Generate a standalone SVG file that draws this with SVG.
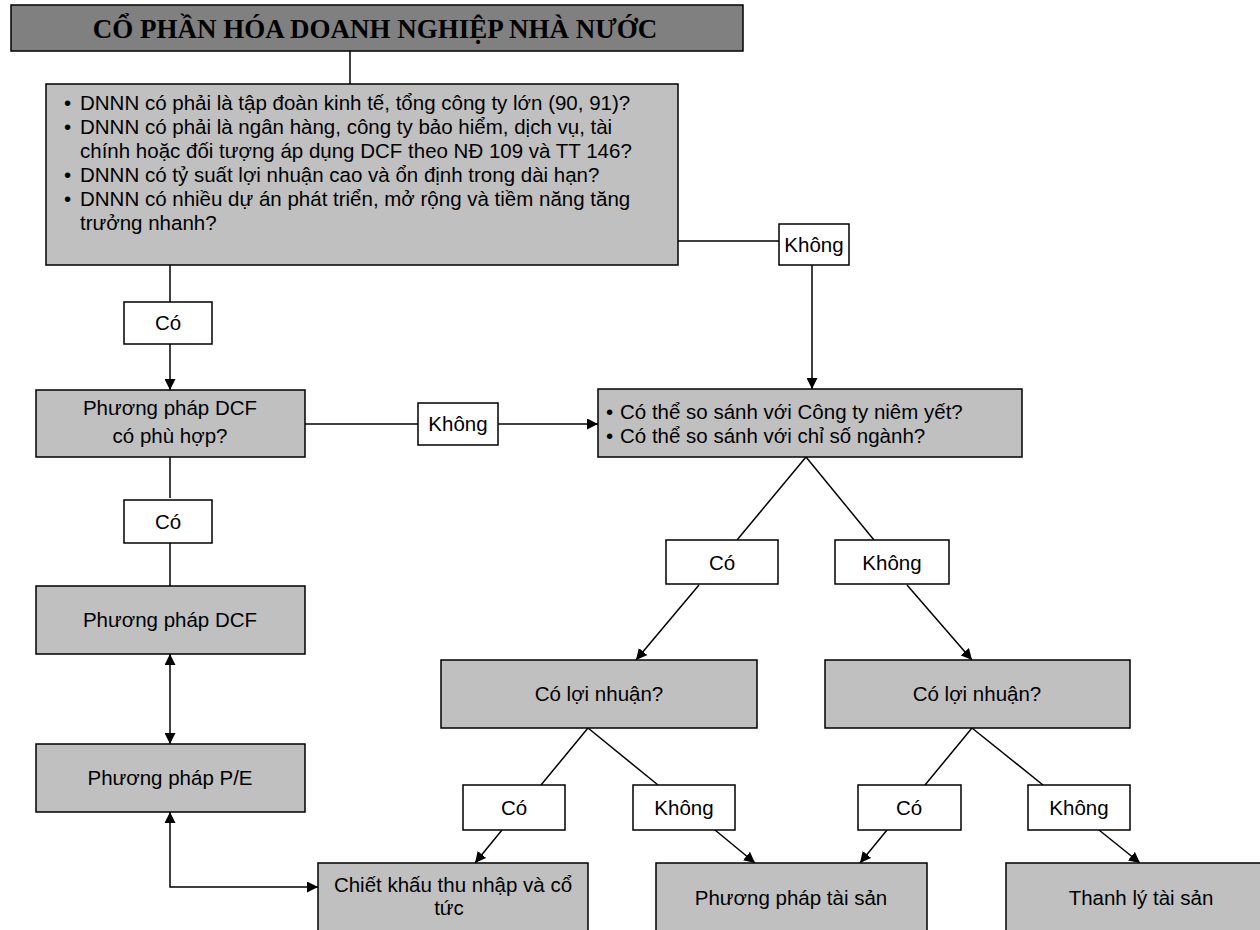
<svg xmlns="http://www.w3.org/2000/svg" width="1260" height="930" viewBox="0 0 1260 930">
<defs>
<style>
.title{fill:#808080;stroke:#000;stroke-width:1.5}
.box{fill:#c0c0c0;stroke:#000;stroke-width:1.5}
.lbl{fill:#fff;stroke:#000;stroke-width:1.5}
.t{font-family:"Liberation Sans",Arial,sans-serif;font-size:20.5px;fill:#000}
.c{text-anchor:middle}
.tt{font-family:"Liberation Serif","Times New Roman",serif;font-size:27px;font-weight:bold;fill:#000;text-anchor:middle}
.ln{stroke:#000;stroke-width:1.5;fill:none}
</style>
<marker id="arr" viewBox="0 0 10 10" refX="10" refY="5" markerWidth="11" markerHeight="11" orient="auto-start-reverse" markerUnits="userSpaceOnUse"><path d="M0,0 L10,5 L0,10 z" fill="#000"/></marker>
</defs>
<rect width="1260" height="930" fill="#fff"/>

<g id="connectors">
<line class="ln" x1="350" y1="51" x2="350" y2="84"/>
<line class="ln" x1="678" y1="241" x2="779" y2="241"/>
<line class="ln" x1="812" y1="265" x2="812" y2="389" marker-end="url(#arr)"/>
<line class="ln" x1="170" y1="265" x2="170" y2="302"/>
<line class="ln" x1="170" y1="344" x2="170" y2="390" marker-end="url(#arr)"/>
<line class="ln" x1="305" y1="424" x2="418" y2="424"/>
<line class="ln" x1="498" y1="424" x2="598" y2="424" marker-end="url(#arr)"/>
<line class="ln" x1="170" y1="457" x2="170" y2="498"/>
<line class="ln" x1="170" y1="543" x2="170" y2="586"/>
<line class="ln" x1="170" y1="654" x2="170" y2="744" marker-start="url(#arr)" marker-end="url(#arr)"/>
<polyline class="ln" points="170,812 170,887 318,887" marker-start="url(#arr)" marker-end="url(#arr)"/>
<line class="ln" x1="806" y1="457" x2="737" y2="540"/>
<line class="ln" x1="806" y1="457" x2="874" y2="540"/>
<line class="ln" x1="699" y1="585" x2="636" y2="660" marker-end="url(#arr)"/>
<line class="ln" x1="907" y1="585" x2="972" y2="660" marker-end="url(#arr)"/>
<line class="ln" x1="588" y1="728" x2="541" y2="785"/>
<line class="ln" x1="588" y1="728" x2="658" y2="785"/>
<line class="ln" x1="502" y1="830" x2="475" y2="863" marker-end="url(#arr)"/>
<line class="ln" x1="715" y1="830" x2="755" y2="863" marker-end="url(#arr)"/>
<line class="ln" x1="972" y1="728" x2="925" y2="785"/>
<line class="ln" x1="972" y1="728" x2="1043" y2="785"/>
<line class="ln" x1="887" y1="830" x2="860" y2="863" marker-end="url(#arr)"/>
<line class="ln" x1="1099" y1="830" x2="1140" y2="863" marker-end="url(#arr)"/>
</g>

<g id="title">
<rect class="title" x="11" y="5" width="732" height="46"/>
<text class="tt" x="375" y="38">CỔ PHẦN HÓA DOANH NGHIỆP NHÀ NƯỚC</text>
</g>

<g id="criteria">
<rect class="box" x="46" y="84" width="632" height="181"/>
<text class="t" x="64" y="110">•</text><text class="t" x="80" y="110">DNNN có phải là tập đoàn kinh tế, tổng công ty lớn (90, 91)?</text>
<text class="t" x="64" y="134">•</text><text class="t" x="80" y="134">DNNN có phải là ngân hàng, công ty bảo hiểm, dịch vụ, tài</text>
<text class="t" x="80" y="158">chính hoặc đối tượng áp dụng DCF theo NĐ 109 và TT 146?</text>
<text class="t" x="64" y="182">•</text><text class="t" x="80" y="182">DNNN có tỷ suất lợi nhuận cao và ổn định trong dài hạn?</text>
<text class="t" x="64" y="206">•</text><text class="t" x="80" y="206">DNNN có nhiều dự án phát triển, mở rộng và tiềm năng tăng</text>
<text class="t" x="80" y="230">trưởng nhanh?</text>
</g>

<g id="lbl-khong-top">
<rect class="lbl" x="779" y="224" width="70" height="41"/>
<text class="t c" x="814" y="252">Không</text>
</g>

<g id="lbl-co-1">
<rect class="lbl" x="124" y="302" width="88" height="42"/>
<text class="t c" x="168" y="330">Có</text>
</g>

<g id="dcf-fit">
<rect class="box" x="36" y="390" width="269" height="67"/>
<text class="t c" x="170" y="415">Phương pháp DCF</text>
<text class="t c" x="170" y="443">có phù hợp?</text>
</g>

<g id="lbl-khong-dcf">
<rect class="lbl" x="418" y="403" width="80" height="42"/>
<text class="t c" x="458" y="431">Không</text>
</g>

<g id="compare">
<rect class="box" x="598" y="389" width="424" height="68"/>
<text class="t" x="606" y="419">•</text><text class="t" x="620" y="419">Có thể so sánh với Công ty niêm yết?</text>
<text class="t" x="606" y="443">•</text><text class="t" x="620" y="443">Có thể so sánh với chỉ số ngành?</text>
</g>

<g id="lbl-co-2">
<rect class="lbl" x="124" y="500" width="88" height="43"/>
<text class="t c" x="168" y="529">Có</text>
</g>

<g id="lbl-co-cmp">
<rect class="lbl" x="666" y="540" width="112" height="44"/>
<text class="t c" x="722" y="570">Có</text>
</g>

<g id="lbl-khong-cmp">
<rect class="lbl" x="835" y="540" width="114" height="44"/>
<text class="t c" x="892" y="570">Không</text>
</g>

<g id="dcf">
<rect class="box" x="36" y="586" width="269" height="68"/>
<text class="t c" x="170" y="627">Phương pháp DCF</text>
</g>

<g id="profit-left">
<rect class="box" x="441" y="660" width="316" height="68"/>
<text class="t c" x="599" y="701">Có lợi nhuận?</text>
</g>

<g id="profit-right">
<rect class="box" x="825" y="660" width="305" height="68"/>
<text class="t c" x="977" y="701">Có lợi nhuận?</text>
</g>

<g id="pe">
<rect class="box" x="36" y="744" width="269" height="68"/>
<text class="t c" x="170" y="785">Phương pháp P/E</text>
</g>

<g id="lbl-co-l">
<rect class="lbl" x="463" y="785" width="102" height="45"/>
<text class="t c" x="514" y="815">Có</text>
</g>
<g id="lbl-khong-l">
<rect class="lbl" x="633" y="785" width="102" height="45"/>
<text class="t c" x="684" y="815">Không</text>
</g>
<g id="lbl-co-r">
<rect class="lbl" x="858" y="785" width="103" height="45"/>
<text class="t c" x="909" y="815">Có</text>
</g>
<g id="lbl-khong-r">
<rect class="lbl" x="1028" y="785" width="102" height="45"/>
<text class="t c" x="1079" y="815">Không</text>
</g>

<g id="discount">
<rect class="box" x="318" y="863" width="270" height="80"/>
<text class="t c" x="453" y="892">Chiết khấu thu nhập và cổ</text>
<text class="t c" x="449" y="915">tức</text>
</g>
<g id="asset">
<rect class="box" x="656" y="863" width="271" height="80"/>
<text class="t c" x="791" y="905">Phương pháp tài sản</text>
</g>
<g id="liquidate">
<rect class="box" x="1006" y="863" width="260" height="80"/>
<text class="t c" x="1141" y="905">Thanh lý tài sản</text>
</g>
</svg>
